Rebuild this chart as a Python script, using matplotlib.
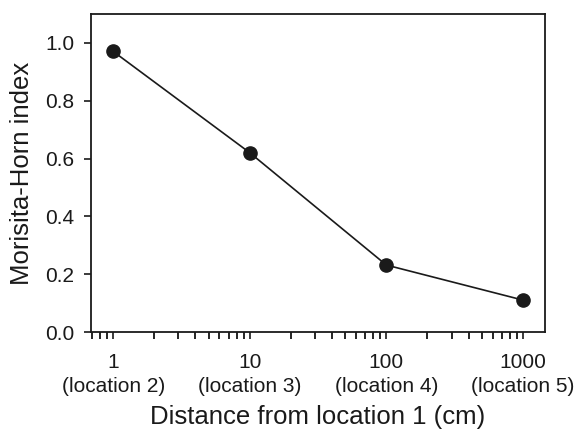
import matplotlib.pyplot as plt
from matplotlib.ticker import LogLocator, NullFormatter, FixedLocator, FixedFormatter

plt.rcParams['font.family'] = ['Liberation Sans', 'DejaVu Sans']

# Datos
distance = [1, 10, 100, 1000]
index = [0.97, 0.62, 0.232, 0.111]
tick_labels = ["1\n(location 2)", "10\n(location 3)", "100\n(location 4)", "1000\n(location 5)"]
y_ticks = [0.0, 0.2, 0.4, 0.6, 0.8, 1.0]

fig = plt.figure(figsize=(5.81, 4.32), dpi=100)
ax = fig.add_axes([0.157, 0.231, 0.781, 0.737])

ax.plot(distance, index, color="#1a1a1a", lw=1.2, marker="o", markersize=9.5,
        markerfacecolor="#1a1a1a", markeredgecolor="#1a1a1a", zorder=3)

ax.set_xscale("log")
ax.set_xlim(0.69, 1450)
ax.set_ylim(0, 1.1)

ax.xaxis.set_major_locator(FixedLocator(distance))
ax.xaxis.set_major_formatter(FixedFormatter(tick_labels))
ax.xaxis.set_minor_locator(LogLocator(base=10, subs=range(2, 10)))
ax.xaxis.set_minor_formatter(NullFormatter())
ax.set_yticks(y_ticks)
ax.set_yticklabels([f"{v:.1f}" for v in y_ticks])

ax.tick_params(axis="both", which="major", direction="out", length=5, width=1.2,
               labelsize=15, colors="#1a1a1a", pad=7)
ax.tick_params(axis="x", which="major", pad=10)
ax.tick_params(axis="x", which="minor", direction="out", length=5, width=1.2)
ax.tick_params(top=False, right=False, which="both")
for lbl in ax.get_xticklabels():
    lbl.set_linespacing(1.3)

for s in ax.spines.values():
    s.set_linewidth(1.3)
    s.set_color("#1a1a1a")

ax.set_xlabel("Distance from location 1 (cm)", fontsize=18.5, labelpad=7, color="#1a1a1a")
ax.set_ylabel("Morisita-Horn index", fontsize=18.5, labelpad=8, color="#1a1a1a")

plt.savefig("out.png", dpi=100)
plt.close()
